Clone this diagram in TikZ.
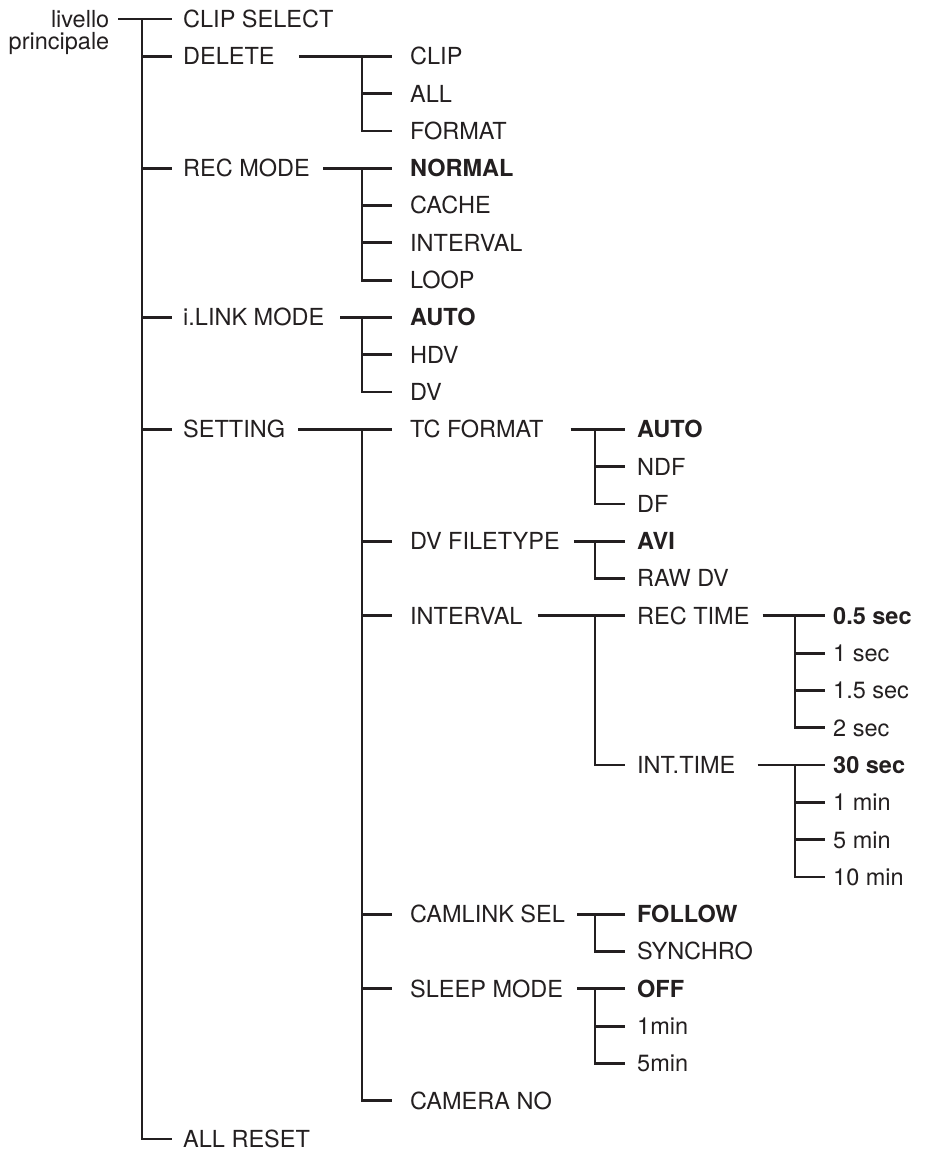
\documentclass[tikz,border=0pt]{standalone}
\usepackage{fontspec}
\setmainfont{TeX Gyre Heros}
\definecolor{ink}{HTML}{231F20}
\begin{document}
\begin{tikzpicture}[x=1pt,y=-1pt,
  every node/.style={font=\fontsize{23.5}{22.5}\selectfont, text=ink},
  item/.style={anchor=west, inner sep=0pt, text height=16.9pt, text depth=0pt},
  sel/.style={item, font=\fontsize{23.5}{22.5}\selectfont\bfseries},
  ln/.style={draw=ink, line width=2.8pt}]
\useasboundingbox (0,0) rectangle (924,1151);
% root label
\node[anchor=north east, inner sep=0pt, align=right] (lv) at (109.5,10) {livello\\principale};
\coordinate (root) at (118,19);
% level 1
\node[item] (cs) at (183,19) {CLIP SELECT};
\node[item] (del) at (183,56.3) {DELETE};
\node[item] (rec) at (183,168.2) {REC MODE};
\node[item] (ilk) at (183,317.4) {i.LINK MODE};
\node[item] (set) at (183,429.3) {SETTING};
\node[item] (ar) at (183,1139) {ALL RESET};
% level 2
\node[item] (dclip) at (410,56.3) {CLIP};
\node[item] (dall) at (410,93.6) {ALL};
\node[item] (dfmt) at (410,130.9) {FORMAT};
\node[sel] (rnorm) at (410,168.2) {NORMAL};
\node[item] (rcache) at (410,205.5) {CACHE};
\node[item] (rint) at (410,242.8) {INTERVAL};
\node[item] (rloop) at (410,280.1) {LOOP};
\node[sel] (iauto) at (410,317.4) {AUTO};
\node[item] (ihdv) at (410,354.7) {HDV};
\node[item] (idv) at (410,392) {DV};
\node[item] (tcf) at (410,429.3) {TC FORMAT};
\node[item] (dvf) at (410,541.2) {DV FILETYPE};
\node[item] (sint) at (410,615.8) {INTERVAL};
\node[item] (cam) at (410,914.2) {CAMLINK SEL};
\node[item] (slp) at (410,988.8) {SLEEP MODE};
\node[item] (camno) at (410,1100.7) {CAMERA NO};
% level 3
\node[sel] (tauto) at (637,429.3) {AUTO};
\node[item] (tndf) at (637,466.6) {NDF};
\node[item] (tdf) at (637,503.9) {DF};
\node[sel] (avi) at (637,541.2) {AVI};
\node[item] (raw) at (637,578.5) {RAW DV};
\node[item] (rtime) at (637,615.8) {REC TIME};
\node[item] (itime) at (637,765) {INT.TIME};
\node[sel] (fol) at (637,914.2) {FOLLOW};
\node[item] (syn) at (637,951.5) {SYNCHRO};
\node[sel] (off) at (637,988.8) {OFF};
\node[item] (m1) at (637,1026.1) {1min};
\node[item] (m5) at (637,1063.4) {5min};
% level 4
\node[sel] (s05) at (833,615.8) {0.5 sec};
\node[item] (s1) at (833,653.1) {1 sec};
\node[item] (s15) at (833,690.4) {1.5 sec};
\node[item] (s2) at (833,727.7) {2 sec};
\node[sel] (s30) at (833,765) {30 sec};
\node[item] (i1) at (833,802.3) {1 min};
\node[item] (i5) at (833,839.6) {5 min};
\node[item] (i10) at (833,876.9) {10 min};
% ---- connectors, level 1 (stub end 11 left of text, vertical 41 left)
\draw[ln] (root) -- ([xshift=-11]cs.west);
\draw[ln] ([xshift=-41]cs.west) |- ([xshift=-11]ar.west);
\foreach \n in {del,rec,ilk,set}
  \draw[ln] ([xshift=-41]\n.west) -- ([xshift=-11]\n.west);
% ---- level 2 (stub end 18 left, vertical 48 left)
\draw[ln] ([xshift=24]del.east) -- ([xshift=-18]dclip.west);
\draw[ln] ([xshift=-48]dclip.west) |- ([xshift=-18]dfmt.west);
\draw[ln] ([xshift=-48]dall.west) -- ([xshift=-18]dall.west);
\draw[ln] ([xshift=13]rec.east) -- ([xshift=-18]rnorm.west);
\draw[ln] ([xshift=-48]rnorm.west) |- ([xshift=-18]rloop.west);
\foreach \n in {rcache,rint}
  \draw[ln] ([xshift=-48]\n.west) -- ([xshift=-18]\n.west);
\draw[ln] ([xshift=16]ilk.east) -- ([xshift=-18]iauto.west);
\draw[ln] ([xshift=-48]iauto.west) |- ([xshift=-18]idv.west);
\draw[ln] ([xshift=-48]ihdv.west) -- ([xshift=-18]ihdv.west);
\draw[ln] ([xshift=13]set.east) -- ([xshift=-18]tcf.west);
\draw[ln] ([xshift=-48]tcf.west) |- ([xshift=-18]camno.west);
\foreach \n in {dvf,sint,cam,slp}
  \draw[ln] ([xshift=-48]\n.west) -- ([xshift=-18]\n.west);
% ---- level 3 (stub end 12 left, vertical 42 left)
\draw[ln] ([xshift=27]tcf.east) -- ([xshift=-12]tauto.west);
\draw[ln] ([xshift=-42]tauto.west) |- ([xshift=-12]tdf.west);
\draw[ln] ([xshift=-42]tndf.west) -- ([xshift=-12]tndf.west);
\draw[ln] ([xshift=14]dvf.east) -- ([xshift=-12]avi.west);
\draw[ln] ([xshift=-42]avi.west) |- ([xshift=-12]raw.west);
\draw[ln] ([xshift=15]sint.east) -- ([xshift=-12]rtime.west);
\draw[ln] ([xshift=-42]rtime.west) |- ([xshift=-12]itime.west);
\draw[ln] ([xshift=12]cam.east) -- ([xshift=-12]fol.west);
\draw[ln] ([xshift=-42]fol.west) |- ([xshift=-12]syn.west);
\draw[ln] ([xshift=14]slp.east) -- ([xshift=-12]off.west);
\draw[ln] ([xshift=-42]off.west) |- ([xshift=-12]m5.west);
\draw[ln] ([xshift=-42]m1.west) -- ([xshift=-12]m1.west);
% ---- level 4 (stub end 8 left, vertical 38 left)
\draw[ln] ([xshift=13]rtime.east) -- ([xshift=-8]s05.west);
\draw[ln] ([xshift=-38]s05.west) |- ([xshift=-8]s2.west);
\foreach \n in {s1,s15}
  \draw[ln] ([xshift=-38]\n.west) -- ([xshift=-8]\n.west);
\draw[ln] ([xshift=22]itime.east) -- ([xshift=-8]s30.west);
\draw[ln] ([xshift=-38]s30.west) |- ([xshift=-8]i10.west);
\foreach \n in {i1,i5}
  \draw[ln] ([xshift=-38]\n.west) -- ([xshift=-8]\n.west);
\end{tikzpicture}
\end{document}
